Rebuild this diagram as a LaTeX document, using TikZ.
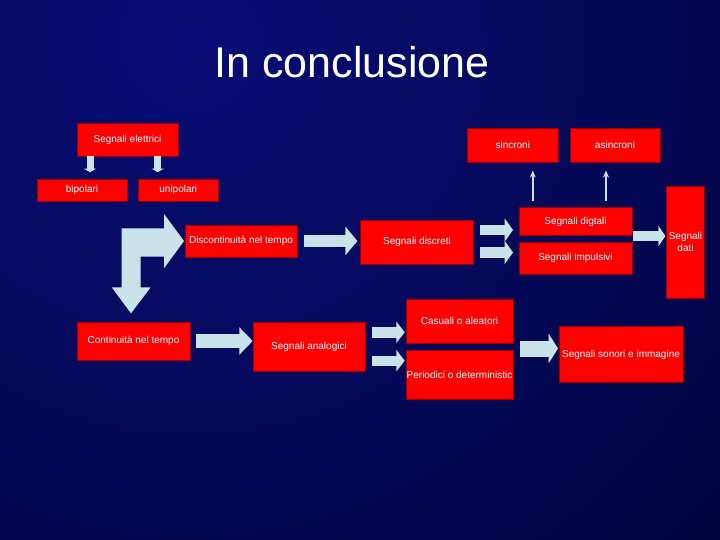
\documentclass[tikz,border=0pt]{standalone}
\usepackage{fontspec}
\setmainfont{Liberation Sans}
\usetikzlibrary{arrows.meta}
\definecolor{slidered}{RGB}{255,0,0}
\definecolor{boxedge}{RGB}{150,0,0}
\definecolor{arrowblue}{RGB}{200,228,234}
\definecolor{glowblue}{RGB}{8,14,118}
\definecolor{darknavy}{RGB}{0,0,42}

\begin{document}
\begin{tikzpicture}[x=1pt, y=-1pt,
  sbox/.style={draw=boxedge, line width=0.6pt, fill=slidered, text=white, inner sep=0pt, align=center, font=\fontsize{10}{12}\selectfont},
  bigarrow/.style n args={3}{draw=arrowblue, line width=#1, -{Triangle[width=#2, length=#3]}},
  thinarrow/.style={draw=arrowblue, line width=1.8pt, -{Stealth[width=6pt, length=7pt]}}
]
  \useasboundingbox (0,0) rectangle (720,540);
  \clip (0,0) rectangle (720,540);
  \shade[inner color=glowblue, outer color=darknavy] (190,40) circle (1000);

  \node[text=white, font=\fontsize{43}{50}\selectfont] (title) at (352,62) {In conclusione};

  \node[sbox, minimum width=101pt, minimum height=33pt] (elettrici) at (127.5,139.5) {Segnali elettrici};
  \node[sbox, minimum width=90pt, minimum height=22pt] (bipolari) at (82,190) {bipolari};
  \node[sbox, minimum width=80pt, minimum height=22pt] (unipolari) at (178.3,190) {unipolari};
  \node[sbox, minimum width=91pt, minimum height=34pt] (sincroni) at (512.8,145.3) {sincroni};
  \node[sbox, minimum width=90pt, minimum height=34pt] (asincroni) at (615,145.3) {asincroni};
  \node[sbox, minimum width=113pt, minimum height=28.5pt] (digtali) at (575.5,221.5) {Segnali digtali};
  \node[sbox, minimum width=113pt, minimum height=32pt] (impulsivi) at (575.5,258.3) {Segnali impulsivi};
  \node[sbox, minimum width=37.5pt, minimum height=112pt] (dati) at (685.5,242) {Segnali\\dati};
  \node[sbox, minimum width=112.6pt, minimum height=44pt] (discreti) at (417,242) {Segnali discreti};
  \node[sbox, minimum width=112pt, minimum height=32pt] (discont) at (241,241) {Discontinuità nel tempo};
  \node[sbox, minimum width=113pt, minimum height=38pt] (cont) at (133.5,341) {Continuità nel tempo};
  \node[sbox, minimum width=112pt, minimum height=49pt] (analogici) at (309,346.5) {Segnali analogici};
  \node[sbox, minimum width=107pt, minimum height=44pt] (casuali) at (459.5,321) {Casuali o aleatori};
  \node[sbox, minimum width=107pt, minimum height=49pt] (periodici) at (459.5,374.5) {Periodici o deterministic};
  \node[sbox, minimum width=124pt, minimum height=55.5pt] (sonori) at (621,354.5) {Segnali sonori e immagine};

  \draw[bigarrow={7pt}{12pt}{3.5pt}, shorten >=6.5pt] ([xshift=-37.5pt]elettrici.south) -- ([xshift=-37.5pt]elettrici.south |- bipolari.north);
  \draw[bigarrow={7pt}{12pt}{3.5pt}, shorten >=6.5pt] ([xshift=30.2pt]elettrici.south) -- ([xshift=30.2pt]elettrici.south |- unipolari.north);

  \fill[arrowblue] (121.7,228.3) -- (164,228.3) -- (164,214) -- (184,241) -- (164,268.3) -- (164,256.7)
    -- (140.7,256.7) -- (140.7,287.3) -- (150.7,287.3) -- (131,313.3) -- (111.7,287.3) -- (121.7,287.3) -- cycle;

  \draw[bigarrow={12.7pt}{28pt}{12pt}, shorten <=7pt, shorten >=3pt] (discont.east) -- (discont.east -| discreti.west);
  \draw[bigarrow={13.3pt}{26.7pt}{13.4pt}, shorten <=6pt] (cont.east) -- (cont.east -| analogici.west);
  \draw[bigarrow={10.5pt}{22.7pt}{8.3pt}, shorten <=6pt, shorten >=5.7pt] ([yshift=12pt]discreti.east) -- ([yshift=12pt]discreti.east -| digtali.west);
  \draw[bigarrow={10.5pt}{22.7pt}{8.3pt}, shorten <=6pt, shorten >=5.7pt] ([yshift=-10.5pt]discreti.east) -- ([yshift=-10.5pt]discreti.east -| impulsivi.west);
  \draw[bigarrow={10pt}{20pt}{7pt}, shorten <=1pt, shorten >=1pt] (digtali.south east) -- (digtali.south east -| dati.west);
  \draw[bigarrow={10.4pt}{21pt}{8.3pt}, shorten <=7pt, shorten >=1pt] ([yshift=14.2pt]analogici.east) -- ([yshift=14.2pt]analogici.east -| casuali.west);
  \draw[bigarrow={10.4pt}{21pt}{8.3pt}, shorten <=7pt, shorten >=1pt] ([yshift=-14.2pt]analogici.east) -- ([yshift=-14.2pt]analogici.east -| periodici.west);
  \draw[bigarrow={16pt}{29pt}{9.3pt}, shorten <=6.3pt, shorten >=0.7pt] ([yshift=6pt]sonori.west -| casuali.east) -- ([yshift=6pt]sonori.west);

  \draw[thinarrow, shorten <=6pt, shorten >=8pt] ([xshift=20pt]sincroni.south |- digtali.north) -- ([xshift=20pt]sincroni.south);
  \draw[thinarrow, shorten <=6pt, shorten >=8pt] ([xshift=-9pt]asincroni.south |- digtali.north) -- ([xshift=-9pt]asincroni.south);
\end{tikzpicture}
\end{document}
